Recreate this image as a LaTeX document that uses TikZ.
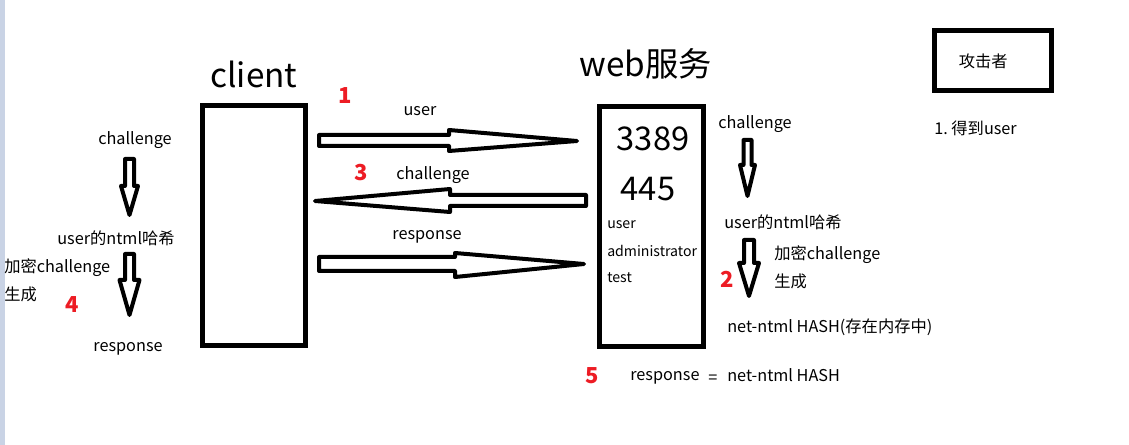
\documentclass[tikz,border=0pt]{standalone}
\usepackage{fontspec}
\setmainfont{Noto Sans CJK SC}
\definecolor{numred}{HTML}{ED1C24}
\definecolor{strip}{HTML}{C9D3E5}
\tikzset{
  lbl/.style={inner sep=0pt, yshift=-1.2pt, font=\fontsize{12.2pt}{14pt}\selectfont},
  small/.style={inner sep=0pt, yshift=-1.2pt, font=\fontsize{10.6pt}{13pt}\selectfont},
  big/.style={inner sep=0pt, font=\fontsize{25pt}{28pt}\selectfont},
  num/.style={inner sep=0pt, text=numred, font=\fontsize{16.5pt}{18pt}\selectfont\bfseries},
  boxline/.style={draw=black, line width=3.75pt, fill=white},
  blockarrow/.style={draw=black, line width=3pt, fill=white, line join=round},
}
\newcommand\myvarrow[6]{% cx, top, headstart, tip, shaft half, head half
  \draw[blockarrow] ({#1-#5},#2) -- ({#1+#5},#2) -- ({#1+#5},#3) -- ({#1+#6},#3) -- (#1,#4) -- ({#1-#6},#3) -- ({#1-#5},#3) -- cycle;}
\begin{document}
\begin{tikzpicture}[x=0.75pt,y=-0.75pt]
\useasboundingbox (0,0) rectangle (1129,445);
\fill[white] (0,0) rectangle (1129,445);
\fill[strip] (0,0) rectangle (5,445);

% client
\node[big] (clientlbl) at (254,74) {client};
\draw[boxline] (202.5,105.5) rectangle (305.5,345.5);
\coordinate (client) at (254,225);

% web
\node[big] (weblbl) at (646,64) {web服务};
\draw[boxline] (599.5,106.5) rectangle (703.5,346.5);
\coordinate (web) at (651,225);
\node[inner sep=0pt, font=\fontsize{24.5pt}{26pt}\selectfont] (n3389) at (653,139) {3389};
\node[inner sep=0pt, font=\fontsize{24.5pt}{26pt}\selectfont] (n445) at (648,189) {445};
\node[small, anchor=west] (u1) at (607,223) {user};
\node[small, anchor=west] (u2) at (607,249) {administrator};
\node[small, anchor=west] (u3) at (607,276) {test};

% attacker
\node[boxline, minimum width=117*0.75pt, minimum height=60*0.75pt, inner sep=0pt, font=\fontsize{12.2pt}{14pt}\selectfont] (attacker) at (992.5,61) {\hspace*{-14pt}\raisebox{-1.2pt}{攻击者}};
\node[lbl, anchor=west] (get) at (934,127) {1.\ 得到user};

% horizontal arrows
\draw[blockarrow] (319,135) -- (449,135) -- (449,130) -- (577,141) -- (449,151) -- (449,146) -- (319,146) -- cycle;
\draw[blockarrow] (586,195) -- (450,195) -- (450,189) -- (315,201) -- (450,212) -- (450,206) -- (586,206) -- cycle;
\draw[blockarrow] (319,257) -- (455,257) -- (455,253) -- (584,264) -- (455,277) -- (455,271) -- (319,271) -- cycle;
\node[lbl] (l1) at (420,109) {user};
\node[lbl] (l3) at (433,173) {challenge};
\node[lbl] (l5) at (427,235) {response};
\node[num] (one) at (345,96) {1};
\node[num] (three) at (361,173) {3};

% left column
\node[lbl] (lc1) at (135,138) {challenge};
\myvarrow{129.5}{159}{186}{215}{4.5}{8.5}
\node[lbl] (lc2) at (116,237) {user的ntml哈希};
\myvarrow{129.5}{254}{280}{315}{4.5}{10}
\node[lbl, anchor=west] (lc3) at (4,266) {加密challenge};
\node[lbl, anchor=west] (lc4) at (4,293) {生成};
\node[num] (four) at (72,305) {4};
\node[lbl] (lc5) at (128,347) {response};

% right column
\node[lbl, anchor=west] (rc1) at (718,122) {challenge};
\myvarrow{747.5}{140}{165}{196}{4}{7.5}
\node[lbl, anchor=west] (rc2) at (724,221) {user的ntml哈希};
\myvarrow{749}{240}{263}{296}{5}{10}
\node[lbl, anchor=west] (rc3) at (774,253) {加密challenge};
\node[lbl, anchor=west] (rc4) at (774,280) {生成};
\node[num] (two) at (727,279) {2};
\node[lbl, anchor=west] (rc5) at (727,326) {net-ntml HASH(存在内存中)};
\node[num] (five) at (592,376) {5};
\node[lbl, anchor=west] (rc6) at (630,376) {response};
\node[lbl] (eq) at (713,378) {=};
\node[lbl, anchor=west] (rc7) at (727,374) {net-ntml HASH};
\end{tikzpicture}
\end{document}
